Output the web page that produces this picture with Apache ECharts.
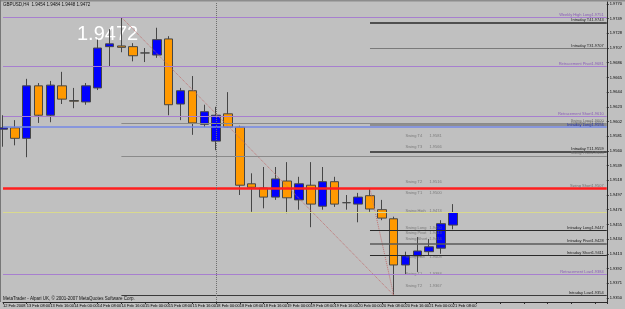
<!DOCTYPE html>
<html><head><meta charset="utf-8">
<script src="https://cdn.jsdelivr.net/npm/echarts@6/dist/echarts.min.js"></script>
<style>html,body{margin:0;padding:0;background:#c0c0c0}#c{width:625px;height:309px}</style>
</head><body><div id="c"></div>
<script>
// ---- data ----
const days = ['13 Feb','14 Feb','15 Feb','18 Feb','19 Feb','20 Feb','21 Feb','22 Feb','25 Feb'];
const hours = ['00:00','04:00','08:00','12:00','16:00','20:00'];
const categories = [];
days.forEach(d => hours.forEach(h => categories.push(d + ' ' + h)));
categories.length = 52;

const xTickLabels = ['12 Feb 2008','13 Feb 08:00','13 Feb 16:00','14 Feb 00:00','14 Feb 08:00','14 Feb 16:00','15 Feb 00:00','15 Feb 08:00','15 Feb 16:00','18 Feb 00:00','18 Feb 08:00','18 Feb 16:00','19 Feb 00:00','19 Feb 08:00','19 Feb 16:00','20 Feb 00:00','20 Feb 08:00','20 Feb 16:00','21 Feb 00:00','21 Feb 08:00'];

const opens  = [1.9591,1.9593,1.9578,1.9653,1.9611,1.9653,1.9632,1.9630,1.9650,1.9709,1.9710,1.9709,1.9700,1.9697,1.9720,1.9627,1.9646,1.9598,1.9574,1.9613,1.9594,1.9513,1.9507,1.9494,1.9517,1.9490,1.9511,1.9481,1.9516,1.9486,1.9484,1.9496,1.9476,1.9463,1.9397,1.9410,1.9416,1.9421,1.9454];
const closes = [1.9593,1.9578,1.9653,1.9611,1.9654,1.9634,1.9631,1.9653,1.9707,1.9713,1.9708,1.9696,1.9700,1.9719,1.9626,1.9646,1.9600,1.9616,1.9611,1.9594,1.9511,1.9508,1.9494,1.9520,1.9493,1.9513,1.9484,1.9516,1.9484,1.9486,1.9494,1.9477,1.9464,1.9397,1.9410,1.9417,1.9423,1.9456,1.9472];
const lows   = [1.9566,1.9568,1.9551,1.9600,1.9601,1.9627,1.9621,1.9626,1.9647,1.9680,1.9701,1.9688,1.9687,1.9693,1.9611,1.9604,1.9583,1.9594,1.9561,1.9593,1.9497,1.9473,1.9478,1.9490,1.9471,1.9476,1.9451,1.9476,1.9480,1.9476,1.9458,1.9473,1.9461,1.9354,1.9384,1.9387,1.9411,1.9413,1.9448];
const highs  = [1.9611,1.9604,1.9663,1.9657,1.9660,1.9673,1.9650,1.9657,1.9719,1.9734,1.9751,1.9714,1.9707,1.9736,1.9724,1.9650,1.9667,1.9626,1.9623,1.9644,1.9596,1.9528,1.9537,1.9537,1.9544,1.9523,1.9544,1.9537,1.9523,1.9497,1.9500,1.9506,1.9490,1.9466,1.9416,1.9437,1.9434,1.9461,1.9484];

const yTickValues = [1.9770,1.9749,1.9728,1.9707,1.9686,1.9665,1.9644,1.9623,1.9602,1.9581,1.9560,1.9539,1.9518,1.9497,1.9476,1.9455,1.9434,1.9413,1.9392,1.9371,1.9350];
const yMin = 1.93441, yMax = 1.97728;

// horizontal levels (start index null = whole chart)
const levelNames  = ['Weekly High Long','Intraday T4','Intraday T3','Retracement Pivot','Retracement Short','Swing Long','Intraday T2','Intraday Long','Intraday T1','Swing Pivot','Swing Short','','Intraday Long','Intraday Pivot','Intraday Short','Retracement Low','Intraday Low'];
const levelPrices = [1.9751,1.9743,1.9707,1.9681,1.9610,1.9600,1.9597,1.9594,1.9559,1.9553,1.9507,1.9472,1.9447,1.9428,1.9411,1.9384,1.9354];
const levelStarts = [null,31,31,null,null,10,31,null,31,10,null,null,31,31,31,null,10];
const levelColors = ['#a77fcf','#2a2a2a','#7a7a7a','#a77fcf','#a77fcf','#8a8a8a','#8e8e8e','#7488e6','#2a2a2a','#8a8a8a','#ff1f1f','#d9d98e','#2a2a2a','#5a5a5a','#2a2a2a','#a77fcf','#3a3a3a'];
const levelWidths = [1.2,1.5,1,1.2,1.2,1,2,1.5,1.5,1,2.5,1.2,1,1.5,1,1.2,1];
const levelText   = ['#8a5cb8','#222','#222','#8a5cb8','#8a5cb8','#707070','#707070','#2030b0','#111','#707070','#707070','#000','#222','#222','#222','#8a5cb8','#222'];

const swingNames  = ['Swing T4','Swing T3','Swing T2','Swing T1','Swing High','Swing Long','Swing Pivot','Swing Short','Swing Low','Swing T1','Swing T2'];
const swingPrices = [1.9581,1.9566,1.9516,1.9500,1.9474,1.9450,1.9443,1.9434,1.9408,1.9384,1.9367];

const trendA = [[10,1.9751],[33,1.9354]];
const trendB = [[31,1.9506],[33,1.9354]];
const axisBoxes = [{price:1.9507,bg:'#ff1f1f'},{price:1.9472,bg:'#000'}];
const weekSeparator = 18;
const bigPrice = '1.9472';

// ---- chart ----
const FONT = 'Liberation Sans, Arial, sans-serif';
const chart = echarts.init(document.getElementById('c'), null, {renderer:'canvas'});

const levelData = levelPrices.map((p, i) => {
  const lbl = levelNames[i] ? {
    show: true, position: 'insideEndTop', distance: [3, 0.5],
    formatter: '{n|' + levelNames[i] + '}{v|' + p.toFixed(4) + '}',
    rich: { n: {width: 30, fontSize: 4, color: levelText[i], fontFamily: FONT},
            v: {fontSize: 4, color: levelText[i], fontFamily: FONT} }
  } : {show: false};
  const ls = {color: levelColors[i], width: levelWidths[i], type: 'solid'};
  if (levelStarts[i] == null) return {yAxis: p, lineStyle: ls, label: lbl};
  return [{coord: [levelStarts[i], p], lineStyle: ls, label: lbl}, {coord: [categories.length - 1, p]}];
});
axisBoxes.forEach(b => levelData.push({
  yAxis: b.price, lineStyle: {opacity: 0, width: 0},
  label: {show: true, position: 'end', distance: 1, formatter: b.price.toFixed(4),
    backgroundColor: b.bg, color: '#fff', fontSize: 4, padding: [1, 2, 1, 1], fontFamily: FONT}
}));
levelData.push({xAxis: weekSeparator, lineStyle: {color: '#6e6e6e', type: 'dotted', width: 1}, label: {show: false}});

const option = {
  backgroundColor: '#c0c0c0',
  animation: false,
  textStyle: {fontFamily: FONT},
  grid: {left: 1.5, right: 14, top: 2, bottom: 7},
  xAxis: {
    type: 'category', data: categories, boundaryGap: false,
    axisLine: {show: true, lineStyle: {color: '#2a2a2a', width: 1}},
    axisTick: {show: true, interval: 1, length: 2, lineStyle: {color: '#2a2a2a'}},
    axisLabel: {show: true, interval: 0, align: 'left', margin: 1.5, fontSize: 4, color: '#000',
      formatter: (v, i) => (i % 2 === 0 && xTickLabels[i / 2]) || ''},
    splitLine: {show: false}
  },
  yAxis: {
    type: 'value', position: 'right', min: yMin, max: yMax,
    axisLine: {show: true, lineStyle: {color: '#2a2a2a'}},
    axisTick: {show: true, length: 2, customValues: yTickValues, lineStyle: {color: '#2a2a2a'}},
    axisLabel: {show: true, customValues: yTickValues, formatter: v => v.toFixed(4), fontSize: 4, color: '#000', margin: 3},
    splitLine: {show: false}
  },
  series: [
    {
      type: 'candlestick', clip: false, barWidth: 9,
      data: opens.map((o, i) => [o, closes[i], lows[i], highs[i]]),
      itemStyle: {color: '#0000ff', color0: '#ff9900', borderColor: '#464646', borderColor0: '#464646', borderWidth: 1},
      markLine: {silent: true, precision: 5, symbol: ['none', 'none'], animation: false, data: levelData}
    },
    {type: 'line', data: trendA, symbol: 'none', lineStyle: {color: '#c07070', type: 'dotted', width: 1}, silent: true},
    {type: 'line', data: trendB, symbol: 'none', lineStyle: {color: '#c07070', type: 'dotted', width: 1}, silent: true},
    {
      type: 'scatter', symbolSize: 0, silent: true,
      data: swingPrices.map(p => [34.4, p]),
      label: {show: true, position: 'right', distance: 0,
        formatter: p => '{n|' + swingNames[p.dataIndex] + '}{v|' + swingPrices[p.dataIndex].toFixed(4) + '}',
        rich: {n: {width: 24, fontSize: 4, color: '#6a6a6a', fontFamily: FONT}, v: {fontSize: 4, color: '#6a6a6a', fontFamily: FONT}}}
    }
  ],
  graphic: [
    {type: 'rect', shape: {x: 0, y: 0, width: 625, height: 1.5}, style: {fill: '#8c8c8c'}, silent: true},
    {type: 'rect', shape: {x: 0, y: 0, width: 1, height: 302}, style: {fill: '#777'}, silent: true},
    {type: 'text', left: 3, top: 2.5, silent: true, style: {text: 'GBPUSD,H4  1.9454 1.9484 1.9448 1.9472', fontSize: 4.5, fill: '#111', fontFamily: FONT}},
    {type: 'text', left: 3, top: 296.5, silent: true, style: {text: 'MetaTrader - Alpari UK, \u00a9 2001-2007 MetaQuotes Software Corp.', fontSize: 4.5, fill: '#111', fontFamily: FONT}},
    {type: 'text', left: 77, top: 24, silent: true, style: {text: bigPrice, fontSize: 20, fill: '#ffffff', fontFamily: FONT}}
  ]
};
chart.setOption(option);
</script></body></html>
